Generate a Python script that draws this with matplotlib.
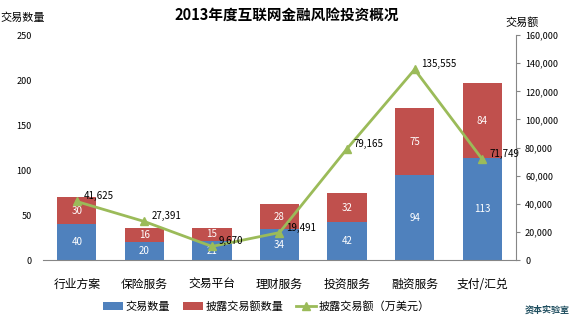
import matplotlib.pyplot as plt
import numpy as np

plt.rcParams['font.family'] = ['Noto Sans CJK SC', 'DejaVu Sans']

categories = ['行业方案', '保险服务', '交易平台', '理财服务', '投资服务', '融资服务', '支付/汇兑']
deal_count = [40, 20, 21, 34, 42, 94, 113]
disclosed_count = [30, 16, 15, 28, 32, 75, 84]
disclosed_amount = [41625, 27391, 9670, 19491, 79165, 135555, 71749]

blue = '#4F81BD'
red = '#C0504D'
green = '#9BBB59'

fig = plt.figure(figsize=(5.73, 3.25), dpi=100)
ax = fig.add_axes([0.075, 0.2, 0.8255, 0.692])
x = np.arange(len(categories))

b1 = ax.bar(x, deal_count, width=0.58, color=blue, label='交易数量')
b2 = ax.bar(x, disclosed_count, width=0.58, bottom=deal_count, color=red, label='披露交易额数量')
for i in range(len(x)):
    ax.text(x[i], deal_count[i] / 2, str(deal_count[i]), ha='center', va='center',
            color='white', fontsize=7)
    ax.text(x[i], deal_count[i] + disclosed_count[i] / 2, str(disclosed_count[i]),
            ha='center', va='center', color='white', fontsize=7)

ax.set_ylim(0, 250)
ax.set_yticks(range(0, 251, 50))
ax.set_xlim(-0.5, len(x) - 0.5)
ax.set_xticks(x)
ax.set_xticklabels(categories, fontsize=8.5)
ax.tick_params(axis='y', length=0, labelsize=6.5, pad=8)
ax.tick_params(axis='x', length=0, pad=13)
for s in ['top', 'left', 'right']:
    ax.spines[s].set_visible(False)
ax.spines['bottom'].set_color('#868686')

ax2 = ax.twinx()
ln, = ax2.plot(x, disclosed_amount, color=green, lw=2, marker='^', markersize=6,
               label='披露交易额（万美元）')
for i in range(len(x)):
    ax2.annotate(f'{disclosed_amount[i]:,}', (x[i], disclosed_amount[i]),
                 xytext=(5, 0), textcoords='offset points', fontsize=7, va='bottom')
ax2.set_ylim(0, 160000)
ax2.set_yticks(range(0, 160001, 20000))
ax2.set_yticklabels([f'{v:,}' for v in range(0, 160001, 20000)])
ax2.tick_params(axis='y', labelsize=6.5, direction='out', length=3, color='#868686')
for s in ['top', 'left', 'bottom']:
    ax2.spines[s].set_visible(False)
ax2.spines['right'].set_color('#868686')

fig.text(0.5, 0.955, '2013年度互联网金融风险投资概况', ha='center', va='center',
         fontsize=10.5, fontweight='bold')
fig.text(0.0, 0.945, '交易数量', ha='left', va='center', fontsize=8)
fig.text(0.882, 0.93, '交易额', ha='left', va='center', fontsize=8)

fig.legend(handles=[b1, b2, ln], loc='center', bbox_to_anchor=(0.465, 0.058), ncol=3,
           frameon=False, fontsize=8, handlelength=1.8, columnspacing=1.2,
           handletextpad=0.2)
fig.text(0.955, 0.045, '资本实验室', ha='center', va='center', fontsize=6.5,
         color='#1F4E5F', fontweight='bold')

fig.savefig('out.png', dpi=100)
